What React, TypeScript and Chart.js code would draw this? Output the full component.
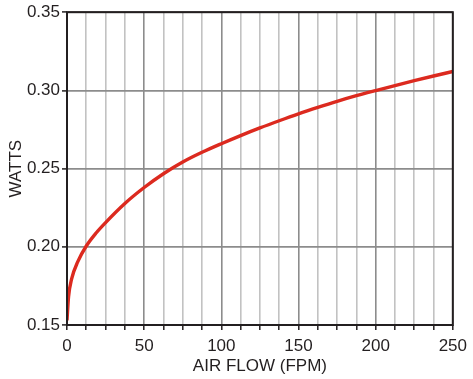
import React, { useEffect, useRef } from "react";
import { Chart, registerables } from "chart.js";

Chart.register(...registerables);

const airFlow = [0, 1, 3, 7, 12.5, 19, 25, 37.5, 50, 62.5, 75, 87.5, 100, 112.5, 125, 137.5, 150, 162.5, 175, 187.5, 200, 212.5, 225, 237.5, 250];
const watts = [0.153, 0.168, 0.1795, 0.1905, 0.2005, 0.209, 0.2155, 0.2277, 0.2379, 0.2467, 0.2542, 0.2604, 0.2659, 0.2711, 0.276, 0.2806, 0.285, 0.2891, 0.293, 0.2966, 0.2999, 0.3031, 0.3062, 0.3092, 0.3121];
const xMajorTicks = [0, 50, 100, 150, 200, 250];
const yTicks = [0.15, 0.2, 0.25, 0.3, 0.35];

const FONT = "'Liberation Sans', Arial, sans-serif";
const TEXT = "#231f20";

const frame = {
  id: "frame",
  afterDatasetsDraw(chart: any) {
    const { ctx, chartArea } = chart;
    ctx.save();
    ctx.strokeStyle = "#231f20";
    ctx.lineWidth = 2;
    ctx.strokeRect(chartArea.left, chartArea.top, chartArea.right - chartArea.left, chartArea.bottom - chartArea.top);
    ctx.restore();
  },
};

export default function App() {
  const ref = useRef<HTMLCanvasElement | null>(null);
  useEffect(() => {
    document.body.style.margin = "0";
    const chart = new Chart(ref.current as HTMLCanvasElement, {
      type: "line",
      data: {
        datasets: [
          {
            data: airFlow.map((x, i) => ({ x, y: watts[i] })),
            borderColor: "#dc2a1f",
            borderWidth: 3.4,
            pointRadius: 0,
            cubicInterpolationMode: "monotone",
            fill: false,
          },
        ],
      },
      options: {
        animation: false,
        responsive: false,
        layout: { padding: { left: 0, top: 12, right: 19, bottom: 0 } },
        plugins: { legend: { display: false }, tooltip: { enabled: false } },
        scales: {
          x: {
            type: "linear",
            min: 0,
            max: 250,
            afterFit: (axis: any) => {
              axis.height = 54;
            },
            ticks: {
              stepSize: 12.5,
              autoSkip: false,
              maxRotation: 0,
              padding: 6,
              color: TEXT,
              font: { family: FONT, size: 17 },
              callback: (v: any) => (xMajorTicks.includes(Number(v)) ? String(v) : ""),
            },
            grid: {
              color: (c: any) => (c.tick && xMajorTicks.includes(c.tick.value) ? "#8c8c8c" : "#c2c2c2"),
              lineWidth: 1.6,
              tickLength: 5,
              tickColor: "#231f20",
              tickWidth: 1.5,
            },
            border: { display: false },
            title: {
              display: true,
              text: "AIR FLOW (FPM)",
              color: TEXT,
              font: { family: FONT, size: 17 },
              padding: { top: 0, bottom: 2 },
            },
          },
          y: {
            min: 0.15,
            max: 0.35,
            afterFit: (axis: any) => {
              axis.width = 67;
            },
            afterBuildTicks: (axis: any) => {
              axis.ticks = yTicks.map((v) => ({ value: v }));
            },
            ticks: {
              padding: 2,
              color: TEXT,
              font: { family: FONT, size: 17 },
              callback: (v: any) => Number(v).toFixed(2),
            },
            grid: {
              color: "#8c8c8c",
              lineWidth: 1.8,
              tickLength: 5,
              tickColor: "#231f20",
              tickWidth: 1.5,
            },
            border: { display: false },
            title: {
              display: true,
              text: "WATTS",
              color: TEXT,
              font: { family: FONT, size: 17 },
              padding: { top: 6, bottom: 0 },
            },
          },
        },
      },
      plugins: [frame],
    } as any);
    return () => chart.destroy();
  }, []);
  return (
    <div style={{ width: 473, height: 379 }}>
      <canvas ref={ref} width={473} height={379} style={{ display: "block", width: 473, height: 379 }} />
    </div>
  );
}
